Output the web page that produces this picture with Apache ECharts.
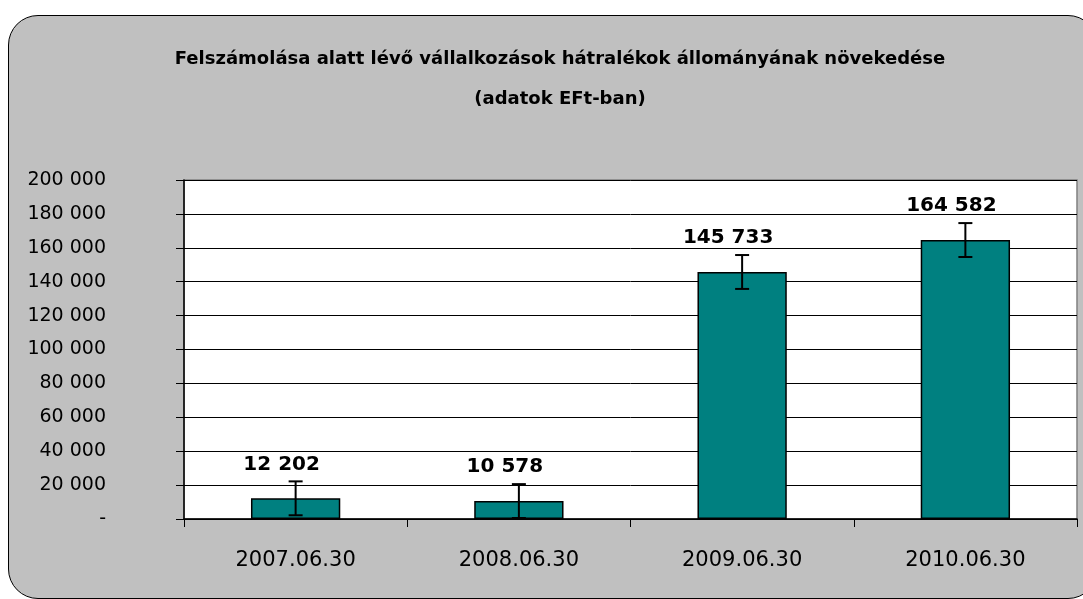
<!DOCTYPE html>
<html>
<head>
<meta charset="utf-8">
<script src="https://cdn.jsdelivr.net/npm/echarts@6/dist/echarts.min.js"></script>
<style>
  html, body { margin: 0; padding: 0; background: #fff; }
  #frame {
    position: absolute; left: 8px; top: 15px; width: 1090px; height: 584px;
    background: #c0c0c0; border: 1.5px solid #000; border-radius: 30px;
    box-sizing: border-box;
  }
  #main { position: absolute; left: 0; top: 0; width: 1083px; height: 599px; }
</style>
</head>
<body>
<div id="frame"></div>
<div id="main"></div>
<script>
// chart data
const categories = ['2007.06.30', '2008.06.30', '2009.06.30', '2010.06.30'];
const values = [12202, 10578, 145733, 164582];
const errors = [10000, 10000, 10000, 10000];
const yTicks = { min: 0, max: 200000, interval: 20000 };

const titleLines = [
    'Felszámolása alatt lévő vállalkozások hátralékok állományának növekedése',
    '(adatok EFt-ban)'
];

function spaced(v, sep) {
    return String(v).replace(/\B(?=(\d{3})+(?!\d))/g, sep);
}

let myChart = echarts.init(document.getElementById('main'));

let option = {
    backgroundColor: 'transparent',
    animation: false,
    title: {
        text: titleLines.join('\n'),
        left: 555,
        top: 34,
        textAlign: 'center',
        textStyle: {
            fontFamily: 'DejaVu Sans',
            fontWeight: 'bold',
            fontSize: 18,
            lineHeight: 40,
            color: '#000'
        }
    },
    grid: {
        left: 184,
        top: 180,
        right: 6,
        bottom: 80,
        show: true,
        backgroundColor: '#fff',
        borderColor: '#808080',
        borderWidth: 1.5
    },
    xAxis: {
        type: 'category',
        data: categories,
        axisLine: { lineStyle: { color: '#000', width: 1.5 } },
        axisTick: { show: true, length: 8, interval: 0, lineStyle: { color: '#000' } },
        axisLabel: {
            fontFamily: 'DejaVu Sans',
            fontSize: 21,
            color: '#000',
            margin: 31
        }
    },
    yAxis: {
        type: 'value',
        min: yTicks.min,
        max: yTicks.max,
        interval: yTicks.interval,
        axisLine: { show: true, lineStyle: { color: '#000', width: 1.5 } },
        axisTick: { show: true, length: 8, lineStyle: { color: '#000' } },
        splitLine: { lineStyle: { color: '#000', width: 1 } },
        axisLabel: {
            fontFamily: 'DejaVu Sans',
            fontSize: 19,
            color: '#000',
            margin: 78,
            formatter: function (v) { return v === 0 ? '-' : spaced(v, ' '); }
        }
    },
    series: [
        {
            name: 'hátralék',
            type: 'bar',
            data: values,
            barWidth: '40%',
            itemStyle: { color: '#008080', borderColor: '#000', borderWidth: 1.5 },
            label: {
                show: true,
                position: 'top',
                distance: 24,
                offset: [-14, 0],
                fontFamily: 'DejaVu Sans',
                fontWeight: 'bold',
                fontSize: 20,
                color: '#000',
                formatter: function (p) { return spaced(p.value, ' '); }
            },
            z: 2
        },
        {
            name: 'hiba',
            type: 'custom',
            data: values.map(function (v, i) { return [i, v - errors[i], v + errors[i]]; }),
            renderItem: function (params, api) {
                let lo = api.coord([api.value(0), api.value(1)]);
                let hi = api.coord([api.value(0), api.value(2)]);
                let half = 7;
                let style = { stroke: '#000', lineWidth: 2 };
                return {
                    type: 'group',
                    children: [
                        { type: 'line', shape: { x1: lo[0], y1: lo[1], x2: hi[0], y2: hi[1] }, style: style },
                        { type: 'line', shape: { x1: lo[0] - half, y1: lo[1], x2: lo[0] + half, y2: lo[1] }, style: style },
                        { type: 'line', shape: { x1: hi[0] - half, y1: hi[1], x2: hi[0] + half, y2: hi[1] }, style: style }
                    ]
                };
            },
            encode: { x: 0, y: [1, 2] },
            z: 3
        }
    ]
};

myChart.setOption(option);
</script>
</body>
</html>
